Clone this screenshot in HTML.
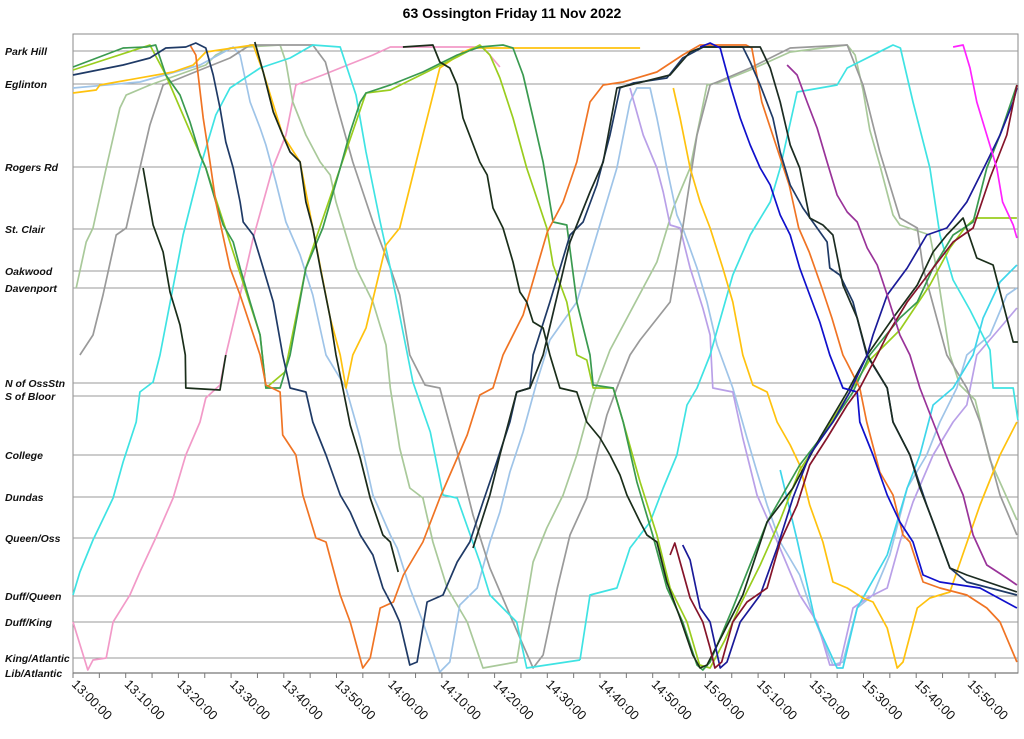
<!DOCTYPE html>
<html><head><meta charset="utf-8"><style>
html,body{margin:0;padding:0;background:#fff;}
svg{display:block;font-family:"Liberation Sans",sans-serif;}
</style></head><body>
<svg id="chart" width="1024" height="739" viewBox="0 0 1024 739">
<text x="512" y="18" text-anchor="middle" font-size="14" font-weight="bold">63 Ossington Friday 11 Nov 2022</text>
<g id="grid"></g>
<g id="ylabels"></g>
<g id="series"></g>
<g id="xaxis"></g>
</svg>
<script>
const stationNames=["Park Hill","Eglinton","Rogers Rd","St. Clair","Oakwood","Davenport","N of OssStn","S of Bloor","College","Dundas","Queen/Oss","Duff/Queen","Duff/King","King/Atlantic","Lib/Atlantic"];
const stationPos=[622,589,506,444,402,385,290,277,218,176,135,77,51,15,0];
const tickLabels=["13:00:00","13:10:00","13:20:00","13:30:00","13:40:00","13:50:00","14:00:00","14:10:00","14:20:00","14:30:00","14:40:00","14:50:00","15:00:00","15:10:00","15:20:00","15:30:00","15:40:00","15:50:00"];
const tickMinutes=[0,10,20,30,40,50,60,70,80,90,100,110,120,130,140,150,160,170];

const sPink=[[0,51],[2.8,3],[3.8,13],[6.3,15],[7.6,51],[10.8,78],[12.7,101],[15.7,135],[19.0,175],[21.4,218],[24.1,251],[25.2,275],[27.9,288],[29.0,318],[31.7,378],[34.2,435],[37.9,505],[40.4,538],[42.3,588],[47.4,598],[50.7,605],[56.9,618],[60.2,626],[77.8,626],[81.0,606]];
const sCyanA=[[0,78],[1.3,101],[3.8,133],[7.6,175],[9.5,211],[12.0,251],[12.7,281],[15.2,291],[16.5,318],[20.9,438],[24.1,505],[27.1,558],[29.8,585],[35.5,605],[41.2,615],[45.5,628],[50.7,626],[53.7,578],[55.6,521],[58.3,451],[60.2,405],[64.5,291],[67.8,241],[70.2,178],[72.9,175],[77.2,111],[79.1,78],[84.2,51],[86.1,5],[96.2,13]];
const sCyanB=[[96.2,13],[98.1,78],[103.2,85],[105.7,125],[109.5,151],[112.0,185],[114.6,218],[116.5,268],[118.4,285],[120.9,318],[125.2,398],[128.5,438],[132.3,471],[134.2,505],[137.4,581],[145.0,588],[146.9,605],[155.6,628],[157.0,625],[159.4,571],[162.6,505],[164.5,438],[167.0,393],[170.2,363],[174.0,323],[174.6,285],[178.4,285],[179.3,253]];
const sCyanC=[[134.2,203],[137.4,133],[140.8,53],[145.0,5],[146.1,5],[148.8,65],[154.5,118],[158.3,185],[160.7,218],[163.2,268],[167.0,285],[170.8,318],[172.7,355],[175.9,391],[179.1,408]];
const sGreen=[[0,606],[9.5,625],[13.9,626],[15.7,628],[17.6,598],[20.3,578],[22.2,551],[24.1,518],[25.2,505],[27.1,471],[28.5,448],[30.4,431],[31.7,405],[33.6,371],[35.5,338],[36.6,285],[39.3,285],[41.2,318],[44.2,405],[47.4,445],[50.7,505],[52.6,541],[54.5,571],[55.6,580],[60.2,588],[66.4,601],[72.9,618],[77.2,626],[81.6,628],[83.5,625],[85.4,598],[87.3,555],[89.2,511],[91.1,451],[93.7,448],[95.6,371],[98.1,318],[98.7,288],[102.5,285],[104.4,251],[107.0,191],[110.0,138],[112.7,85],[115.7,51],[118.4,8],[119.5,3],[120.9,11],[125.2,65],[131.7,151],[137.9,208],[144.2,251],[148.0,281],[151.2,318],[156.9,355],[160.2,371],[163.2,405],[167.0,438],[170.8,451],[173.4,505],[175.9,538],[179.1,588]];
const sLime=[[0,603],[14.6,628],[17.6,598],[25.2,505],[35.5,338],[36.6,285],[40.2,301],[44.2,405],[50.7,505],[55.6,580],[60.2,583],[72.9,616],[77.2,628],[79.1,618],[81.0,595],[83.5,555],[86.1,505],[88.0,475],[89.9,445],[91.1,408],[93.7,371],[95.6,318],[97.5,313],[98.7,285],[102.5,285],[104.4,251],[107.6,191],[110.8,138],[113.3,85],[116.5,51],[118.9,8],[120.9,5],[123.7,33],[126.6,68],[130.4,108],[134.2,153],[137.9,203],[141.7,233],[147.4,281],[151.2,313],[156.9,343],[162.6,388],[166.4,425],[169.2,445],[171.2,455],[179.1,455]];
const sOrange=[[22.2,628],[23.3,618],[24.7,555],[26.0,511],[27.1,471],[27.9,451],[29.8,405],[31.7,378],[35.5,318],[36.6,288],[39.3,281],[39.8,238],[42.3,218],[43.6,178],[46.1,135],[48.0,131],[50.7,78],[52.6,51],[55.0,5],[56.4,15],[58.3,65],[60.8,71],[62.7,98],[66.4,131],[69.6,175],[72.9,215],[74.8,238],[77.2,278],[79.7,285],[81.6,318],[85.4,358],[90.0,441],[93.0,471],[95.6,511],[98.1,571],[100.6,588],[104.4,591],[110.8,601],[115.7,618],[119.0,628],[127.7,628],[128.8,625],[130.7,571],[133.4,528],[135.9,488],[137.7,445],[139.7,421],[142.1,385],[144.0,355],[146.1,318],[146.8,311],[149.3,285],[150.6,251],[153.1,201],[155.6,178],[157.5,138],[158.8,131],[161.3,91],[164.5,85],[169.6,78],[173.4,65],[175.9,51],[179.1,11]];
const navyT=[0,9.5,14.6,17.6,21.4,23.3,25.2,26.6,27.9,29.0,30.4,31.7,32.3,34.2,36.1,38.0,39.8,41.2,44.2,45.5,48.0,50.7,52.6,54.5,56.9,58.8,60.8,62.0,63.9,65.3,67.2,70.2,72.9,75.3,77.8,80.4,82.9,84.2,86.7,87.3,90.5,94.3,96.8,99.4,101.9,103.8,106.3,112.7,115.7,119.6,127.1,128.5,130.4,132.8,134.2,136.1,138.5,141.2,143.1,143.6,145.5,148.0,150.6,154.5,155.6,158.8,162.0,166.4,169.6,179.1];
const navyP=[598,608,615,625,626,630,625,598,565,531,505,471,451,438,405,371,318,285,281,251,218,178,161,138,118,85,65,51,8,11,71,78,111,131,171,211,251,281,285,318,371,438,451,488,538,585,590,595,615,626,626,611,588,555,521,488,465,445,431,405,398,371,318,285,251,218,168,105,91,78];
const sBlackA=[[13.3,505],[15.2,448],[17.1,421],[18.4,381],[20.3,348],[21.3,318],[21.4,285],[27.9,283],[29.0,318]];
const sBlackJ=[[34.5,631],[36.1,601],[38.0,561],[39.8,538],[41.2,521],[43.1,511],[44.2,471],[45.5,445],[46.9,405],[48.8,355],[49.9,318],[51.2,285],[52.6,248],[54.5,215],[56.4,175],[58.8,138],[60.2,131],[61.7,101]];
const sYellowA=[[0,580],[4.4,583],[5.1,588],[19.0,601],[22.8,608],[25.2,621],[34.2,628],[36.1,601],[39.8,538],[43.1,511],[45.5,445],[48.8,355],[50.7,318],[51.8,285],[53.1,318],[55.6,345],[59.4,428],[62.0,445],[66.4,538],[69.6,605],[74.0,621],[75.9,625],[107.6,625]];
const sYellowB=[[113.9,585],[115.2,555],[117.1,505],[119.0,471],[120.9,445],[123.3,405],[125.2,371],[127.1,318],[129.0,288],[131.7,281],[133.6,251],[136.1,228],[137.9,208],[139.8,168],[142.3,131],[144.2,91],[146.9,85],[149.9,75],[151.8,71],[154.5,45],[156.4,5],[157.5,11],[160.2,65],[162.6,75],[166.4,81],[168.8,118],[172.1,168],[175.9,218],[179.1,251]];
const greyT=[1.3,3.8,5.7,8.2,10.1,12.7,14.6,17.1,24.1,29.8,33.6,45.5,47.9,49.9,53.1,56.9,60.2,62.0,63.9,66.8,69.6,72.9,75.9,79.1,83.5,87.3,89.2,91.9,94.3,97.5,99.4,101.3,103.2,105.7,107.6,113.3,115.7,118.4,120.9,128.5,136.1,146.9,149.9,153.1,156.9,160.2,161.3,165.8,169.6,172.1,175.9,179.1];
const greyP=[318,338,378,438,445,505,548,588,603,615,628,628,611,571,511,451,405,378,318,288,285,221,158,105,51,5,18,85,138,175,218,258,285,318,333,371,445,538,588,605,625,628,588,521,455,445,405,318,285,251,178,138];
const sSage=[[0.6,385],[2.5,431],[3.8,445],[6.3,505],[8.9,565],[10.1,578],[14.6,588],[25.2,608],[27.1,618],[29.8,625],[39.3,628],[40.4,611],[41.7,571],[44.2,538],[46.9,511],[48.8,498],[49.9,471],[51.8,438],[53.7,405],[56.9,371],[59.4,328],[60.2,285],[62.0,225],[63.9,185],[66.4,175],[68.3,131],[71.0,85],[74.8,51],[77.8,5],[84.2,11],[85.4,51],[87.3,111],[89.9,145],[93.0,178],[95.6,218],[98.7,278],[101.9,323],[110.8,411],[113.9,465],[117.1,505],[120.3,588],[122.8,591],[128.5,603],[136.1,621],[146.9,628],[148.4,618],[149.9,583],[151.2,543],[153.1,508],[155.6,458],[156.9,448],[162.6,438],[163.9,403],[166.4,318],[168.3,288],[171.2,273],[174.0,213],[179.1,153]];
const sLightBlue=[[0,585],[12.7,591],[24.1,608],[30.4,626],[31.7,618],[33.6,571],[35.5,545],[36.6,528],[38.5,491],[40.4,451],[43.1,418],[45.5,378],[48.0,318],[51.8,285],[54.5,235],[56.9,178],[60.2,138],[61.5,125],[63.9,85],[66.4,51],[69.6,1],[71.5,11],[73.4,68],[76.7,85],[79.1,131],[81.0,161],[82.9,201],[85.4,241],[88.0,291],[90.5,333],[95.6,371],[99.4,438],[103.2,505],[105.7,571],[107.0,585],[109.5,585],[110.8,555],[112.7,505],[114.6,458],[115.7,445],[118.4,405],[120.3,371],[122.2,328],[125.2,285],[127.9,235],[129.8,201],[131.7,168],[134.2,131],[137.9,98],[140.4,58],[144.2,8],[146.1,11],[148.8,65],[151.8,78],[155.0,118],[158.3,185],[162.0,218],[164.5,251],[167.7,285],[169.6,318],[174.0,338],[177.2,378],[179.1,385]];
const sLavender=[[105.7,585],[108.2,538],[110.8,505],[112.0,481],[113.3,448],[115.2,445],[117.1,405],[119.5,365],[120.9,338],[121.4,285],[125.2,281],[127.1,235],[129.8,178],[132.3,148],[134.7,118],[137.9,78],[141.2,51],[143.6,8],[145.5,8],[148.0,65],[150.7,75],[154.5,85],[156.9,131],[159.4,171],[163.2,218],[167.0,251],[169.6,268],[171.5,318],[175.9,345],[179.1,365]];
const sBlueA=[[119.0,626],[120.9,630],[122.8,625],[124.7,588],[126.6,555],[128.5,528],[130.4,505],[132.3,488],[134.2,458],[136.1,438],[137.9,405],[139.8,378],[141.7,351],[143.6,318],[146.1,285],[148.8,281],[149.3,251],[151.8,218],[154.5,178],[156.9,151],[159.4,131],[161.3,98],[164.5,91],[172.1,85],[179.1,65]];
const sBlueB=[[115.7,128],[117.1,113],[119.0,65],[120.9,51],[122.8,5],[124.1,11],[126.6,51],[130.4,78],[133.6,125],[136.6,175],[139.8,218],[144.2,251],[147.4,281],[150.7,318],[151.8,338],[154.5,378],[158.3,405],[162.0,438],[165.8,445],[169.6,471],[173.4,511],[175.9,538],[178.4,571],[179.1,585]];
const sMaroon=[[113.3,118],[114.2,130],[115.2,111],[117.1,75],[119.5,51],[120.9,25],[121.8,5],[123.1,11],[125.2,51],[127.9,71],[131.7,85],[134.2,131],[137.4,168],[139.8,208],[143.1,235],[146.9,268],[149.3,285],[152.6,318],[154.5,338],[158.3,371],[163.2,405],[167.0,431],[170.8,445],[174.0,495],[177.2,538],[179.1,588]];
const sPurple=[[135.5,608],[137.4,598],[139.3,571],[141.2,545],[143.1,511],[145.0,478],[146.9,461],[148.8,451],[150.7,425],[152.6,408],[154.5,378],[156.9,338],[158.8,318],[160.7,285],[163.2,251],[166.4,208],[168.9,178],[170.8,138],[173.4,108],[177.2,95],[179.1,88]];
const sMagenta=[[167.0,626],[168.9,628],[170.2,605],[171.5,571],[173.4,538],[175.3,505],[176.4,471],[178.4,448],[179.1,435]];
const sBlackT=[[62.6,626],[68.3,628],[69.6,611],[71.5,605],[72.9,588],[74.0,555],[77.2,511],[78.6,498],[79.7,465],[81.6,445],[83.5,411],[84.8,381],[86.1,371],[87.3,351],[89.2,345],[90.5,318],[92.4,285],[95.6,281],[97.5,251],[100.0,235],[101.9,218],[103.8,198],[105.1,178],[107.6,151],[108.9,138],[110.8,131],[112.7,91],[115.2,55],[117.6,18],[119.0,5],[120.3,8],[127.1,78],[131.7,151],[136.6,185],[141.7,235],[146.9,281],[150.7,318],[155.6,355],[160.2,388],[163.2,421],[165.8,438],[168.9,455],[171.5,415],[174.6,408],[177.2,355],[178.4,331],[179.3,331]];
const sBlackU=[[75.9,125],[79.1,178],[81.0,218],[84.2,281],[86.7,285],[89.2,318],[94.3,431],[98.1,481],[100.6,511],[103.2,585],[105.7,588],[113.3,598],[117.1,621],[119.5,626],[130.4,626],[132.3,605],[134.2,571],[136.1,528],[137.9,505],[139.8,455],[142.3,448],[144.2,438],[146.1,388],[148.8,355],[150.7,318],[154.5,285],[155.6,251],[158.8,218],[160.7,185],[163.2,151],[166.4,105],[169.6,98],[179.1,81]];

const NS='http://www.w3.org/2000/svg';
const X0=73,X1=1018,Y0=673,PXMIN=5.27;
function xs(t){return X0+t*PXMIN;}
function ys(p){return Y0-p;}
function mk(tag,attrs,parent){const e=document.createElementNS(NS,tag);for(const k in attrs)e.setAttribute(k,attrs[k]);parent.appendChild(e);return e;}
const svg=document.getElementById('chart');
const grid=document.getElementById('grid'),yl=document.getElementById('ylabels'),ser=document.getElementById('series'),xa=document.getElementById('xaxis');

const frame=mk('rect',{x:X0,y:34,width:X1-X0,height:Y0-34,fill:'none',stroke:'#888','stroke-width':1},grid);


stationPos.forEach((p,i)=>{
  const l=mk('line',{x1:X0,x2:X1,y1:ys(p),y2:ys(p),stroke:'#9a9a9a','stroke-width':1},grid);
  
  
  const t=mk('text',{x:5,y:ys(p)+4,'font-size':10.5,'font-weight':'bold','font-style':'italic',fill:'#111'},yl);
  t.textContent=stationNames[i];
  
  
});
const ax=mk('line',{x1:X0,x2:X1,y1:Y0,y2:Y0,stroke:'#777','stroke-width':1.2},xa);


for(let m=0;m<=180;m+=5){const x=xs(m);if(x>X1+1)break;
  const tk=mk('line',{x1:x,x2:x,y1:Y0,y2:Y0+5,stroke:'#777','stroke-width':1},xa);
  
  
}
tickLabels.forEach((lab,i)=>{const x=xs(tickMinutes[i])-2,y=Y0+12;
  const t=mk('text',{x:x,y:y,'font-size':13,fill:'#111',transform:`rotate(45 ${x} ${y})`},xa);
  t.textContent=lab;
  
  
});
function pairsFrom(T,P){return T.map((t,i)=>[t,P[i]]);}
const seriesList=[
 ['pink',sPink,'#f29ac8'],['sage',sSage,'#a9c99a'],['lightblue',sLightBlue,'#9fc4e8'],['lavender',sLavender,'#b9a0e8'],
 ['grey',pairsFrom(greyT,greyP),'#9a9a9a'],['cyan-a',sCyanA,'#3fe3e3'],['cyan-b',sCyanB,'#3fe3e3'],['cyan-c',sCyanC,'#3fd6ea'],
 ['yellow-a',sYellowA,'#ffc20e'],['yellow-b',sYellowB,'#ffc20e'],['lime',sLime,'#9acd1e'],['green',sGreen,'#3a9a50'],
 ['orange',sOrange,'#f07424'],['navy',pairsFrom(navyT,navyP),'#1f3a66'],['black-a',sBlackA,'#1a2e1a'],['black-j',sBlackJ,'#1a2a1a'],
 ['black-t',sBlackT,'#1a2e1a'],['black-u',sBlackU,'#1c2c22'],['blue-a',sBlueA,'#1010cc'],['blue-b',sBlueB,'#1a1a99'],
 ['maroon',sMaroon,'#85142a'],['purple',sPurple,'#993399'],['magenta',sMagenta,'#ff22ff']
];
seriesList.forEach(([name,data,col])=>{
  const d=data.map((pt,i)=>(i?'L':'M')+xs(pt[0]).toFixed(1)+' '+ys(pt[1]).toFixed(1)).join(' ');
  const p=mk('path',{d:d,fill:'none',stroke:col,'stroke-width':1.7,'stroke-linejoin':'round'},ser);
  
  
});
</script>
</body></html>
